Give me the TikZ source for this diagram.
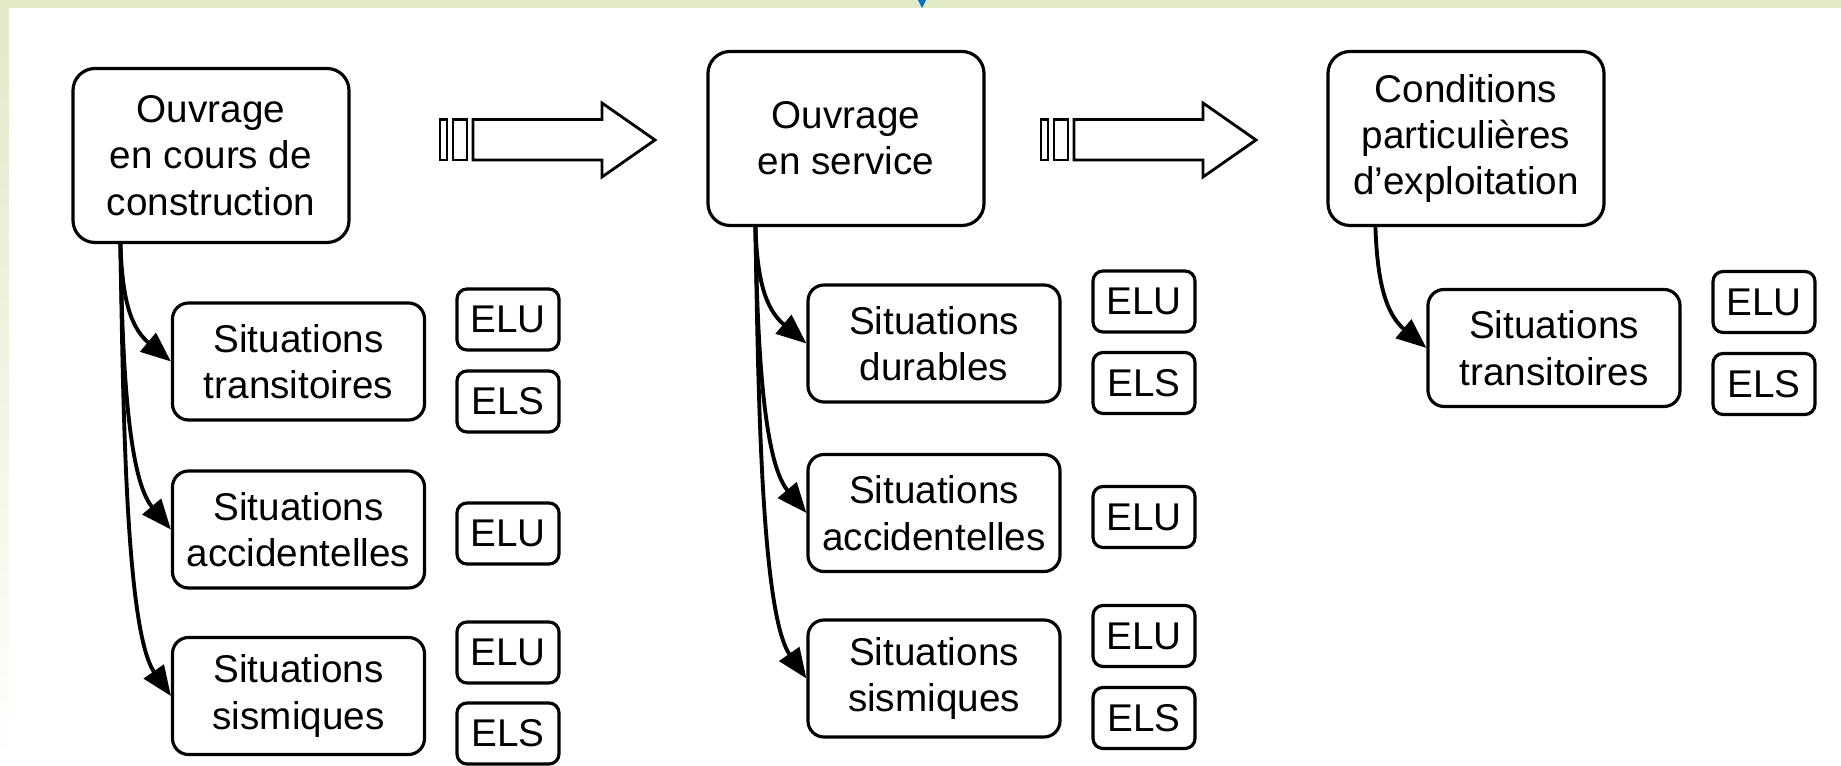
\documentclass[tikz,border=0pt]{standalone}
\usepackage{fontspec}
\setmainfont{Liberation Sans}
\usepackage{xcolor}
\usepackage{tikz}
\usetikzlibrary{arrows.meta}
\usetikzlibrary{calc}

\definecolor{bandgreen}{RGB}{226,233,198}
\definecolor{markblue}{RGB}{0,112,192}

\tikzset{
    phase/.style={draw, rounded corners=0.22cm, line width=0.9pt, align=center,
        minimum width=2.76cm, minimum height=1.74cm},
    situation/.style={draw, rounded corners=0.16cm, line width=0.9pt, align=center,
        minimum width=2.52cm, minimum height=1.17cm},
    etat/.style={draw, rounded corners=0.1cm, line width=0.9pt,
        minimum width=1.02cm, minimum height=0.61cm},
    lien/.style={-{Triangle[length=0.3cm,width=0.24cm]}, line width=1.1pt},
    fleche/.style={draw, line width=0.8pt, fill=white}
}

\begin{document}
\begin{tikzpicture}[font=\fontsize{11}{13.2}\selectfont]
    \useasboundingbox (0,0) rectangle (18.41,-7.66);

    % fond
    \fill[white] (0,0) rectangle (18.41,-7.66);
    \fill[bandgreen] (0,0) rectangle (18.41,-0.08);
    \shade[top color=bandgreen, bottom color=white] (0,-0.08) rectangle (0.09,-7.66);
    \fill[markblue] (9.18,0) -- (9.26,0) -- (9.22,-0.08) -- cycle;

    % phases
    \node[phase] (construction) at (2.11,-1.555) {Ouvrage\\en cours de\\construction};
    \node[phase] (service) at (8.46,-1.385) {Ouvrage\\en service};
    \node[phase] (exploitation) at (14.66,-1.385) {Conditions\\particulières\\d’exploitation};

    % fleches entre phases
    \draw[fleche] (4.40,-1.195) rectangle (4.47,-1.60);
    \draw[fleche] (4.53,-1.195) rectangle (4.67,-1.60);
    \draw[fleche] (4.73,-1.195) -- (6.02,-1.195) -- (6.02,-1.03) -- (6.55,-1.40)
        -- (6.02,-1.77) -- (6.02,-1.60) -- (4.73,-1.60) -- cycle;

    \draw[fleche] (10.41,-1.195) rectangle (10.48,-1.60);
    \draw[fleche] (10.54,-1.195) rectangle (10.68,-1.60);
    \draw[fleche] (10.74,-1.195) -- (12.03,-1.195) -- (12.03,-1.03) -- (12.56,-1.40)
        -- (12.03,-1.77) -- (12.03,-1.60) -- (10.74,-1.60) -- cycle;

    % ouvrage en cours de construction
    \node[situation] (ctrans) at (2.985,-3.615) {Situations\\transitoires};
    \node[situation] (cacc) at (2.985,-5.295) {Situations\\accidentelles};
    \node[situation] (csism) at (2.985,-6.96) {Situations\\sismiques};
    \node[etat] (ctransELU) at (5.08,-3.195) {ELU};
    \node[etat] (ctransELS) at (5.08,-4.015) {ELS};
    \node[etat] (caccELU) at (5.08,-5.335) {ELU};
    \node[etat] (csismELU) at (5.08,-6.525) {ELU};
    \node[etat] (csismELS) at (5.08,-7.335) {ELS};

    % ouvrage en service
    \node[situation] (sdur) at (9.34,-3.435) {Situations\\durables};
    \node[situation] (sacc) at (9.34,-5.13) {Situations\\accidentelles};
    \node[situation] (ssism) at (9.34,-6.785) {Situations\\sismiques};
    \node[etat] (sdurELU) at (11.44,-3.015) {ELU};
    \node[etat] (sdurELS) at (11.44,-3.83) {ELS};
    \node[etat] (saccELU) at (11.44,-5.17) {ELU};
    \node[etat] (ssismELU) at (11.44,-6.36) {ELU};
    \node[etat] (ssismELS) at (11.44,-7.18) {ELS};

    % conditions particulieres
    \node[situation] (etrans) at (15.54,-3.48) {Situations\\transitoires};
    \node[etat] (etransELU) at (17.64,-3.02) {ELU};
    \node[etat] (etransELS) at (17.64,-3.84) {ELS};

    % liens
    \coordinate (c0) at ([xshift=4.9mm]construction.south west);
    \coordinate (s0) at ([xshift=4.9mm]service.south west);
    \coordinate (e0) at ([xshift=4.9mm]exploitation.south west);

    \draw[lien] (c0) to[out=-88, in=140, out distance=0.5cm, in distance=0.55cm] (ctrans.west);
    \draw[lien] (c0) to[out=-89, in=130, out distance=1cm, in distance=0.7cm] (cacc.west);
    \draw[lien] (c0) to[out=-89, in=125, out distance=1.5cm, in distance=0.8cm] (csism.west);

    \draw[lien] (s0) to[out=-88, in=140, out distance=0.5cm, in distance=0.55cm] (sdur.west);
    \draw[lien] (s0) to[out=-89, in=130, out distance=1cm, in distance=0.7cm] (sacc.west);
    \draw[lien] (s0) to[out=-89, in=125, out distance=1.5cm, in distance=0.8cm] (ssism.west);

    \draw[lien] (e0) to[out=-88, in=140, out distance=0.5cm, in distance=0.55cm] (etrans.west);

\end{tikzpicture}
\end{document}
